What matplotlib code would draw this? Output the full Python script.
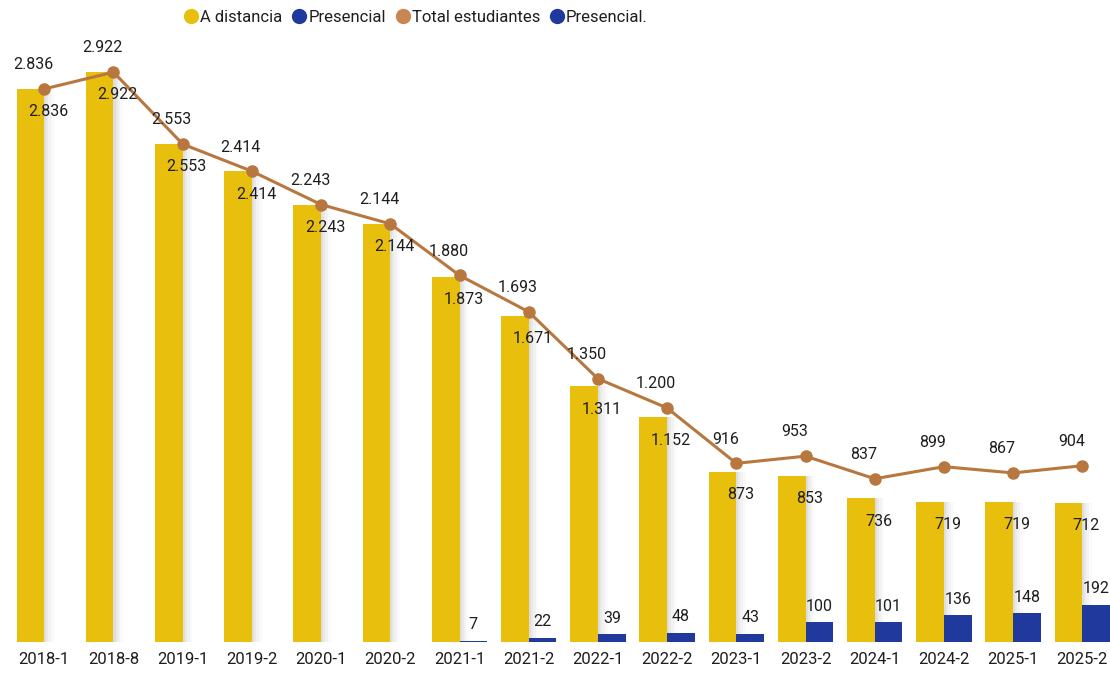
import numpy as np
import matplotlib.pyplot as plt
from matplotlib.lines import Line2D

# Semesters and enrolments per modality
periodos = ["2018-1", "2018-8", "2019-1", "2019-2", "2020-1", "2020-2", "2021-1", "2021-2",
            "2022-1", "2022-2", "2023-1", "2023-2", "2024-1", "2024-2", "2025-1", "2025-2"]
a_distancia = [2836, 2922, 2553, 2414, 2243, 2144, 1873, 1671,
               1311, 1152, 873, 853, 736, 719, 719, 712]
presencial = [0, 0, 0, 0, 0, 0, 7, 22, 39, 48, 43, 100, 101, 136, 148, 192]
total_estudiantes = [2836, 2922, 2553, 2414, 2243, 2144, 1880, 1693,
                     1350, 1200, 916, 953, 837, 899, 867, 904]

AMARILLO = "#E8BF0C"
AZUL = "#1F3A9C"
NARANJA = "#B8773F"
TEXTO = "#1E1E1E"

plt.rcParams["font.family"] = ["Roboto", "DejaVu Sans"]


def fmt(v):
    return f"{v:,}".replace(",", ".")


fig = plt.figure(figsize=(11.1, 6.73), dpi=100)
ax = fig.add_axes([0, 31 / 673, 1, 642 / 673])

x = np.arange(len(periodos))
w = 0.4

# soft shadow to the right of the yellow bars
for off, alpha in [(0.03, 0.10), (0.06, 0.08), (0.10, 0.06), (0.14, 0.04)]:
    ax.bar(x - w / 2 + off, a_distancia, width=w, color="#808080", alpha=alpha,
           linewidth=0, zorder=1)

ax.bar(x - w / 2, a_distancia, width=w, color=AMARILLO, linewidth=0, zorder=2)
ax.bar(x + w / 2, presencial, width=w, color=AZUL, linewidth=0, zorder=3)
ax.plot(x, total_estudiantes, color=NARANJA, lw=2.2, marker="o", ms=8,
        markerfacecolor=NARANJA, markeredgecolor=NARANJA, zorder=4)

for xi, a, p, t in zip(x, a_distancia, presencial, total_estudiantes):
    # total above the line point
    ax.annotate(fmt(t), (xi, t), xytext=(-8, 12), textcoords="offset points",
                ha="center", va="bottom", fontsize=11.5, color=TEXTO, zorder=5)
    # distance learners just under the bar top
    ax.annotate(fmt(a), (xi, a), xytext=(3, -11), textcoords="offset points",
                ha="center", va="top", fontsize=11.5, color=TEXTO, zorder=5)
    if p > 0:
        ax.annotate(fmt(p), (xi + w / 2, p), xytext=(0, 6), textcoords="offset points",
                    ha="center", va="bottom", fontsize=11.5, color=TEXTO, zorder=5)

ax.set_xlim(-0.64, 15.4)
ax.set_ylim(0, 3292)
ax.set_xticks(x)
ax.set_xticklabels(periodos, fontsize=12, color=TEXTO)
ax.tick_params(axis="x", length=0, pad=7)
ax.set_yticks([])
for s in ax.spines.values():
    s.set_visible(False)

handles = [
    Line2D([], [], marker="o", ls="", color=AMARILLO, ms=10),
    Line2D([], [], marker="o", ls="", color=AZUL, ms=10),
    Line2D([], [], marker="o", ls="", color="#C98552", ms=10),
    Line2D([], [], marker="o", ls="", color=AZUL, ms=10),
]
labels = ["A distancia", "Presencial", "Total estudiantes", "Presencial."]
fig.legend(handles, labels, loc="center", bbox_to_anchor=(417 / 1110, 1 - 17 / 673),
           ncol=4, frameon=False, fontsize=12, handlelength=0.6, handletextpad=0.25,
           columnspacing=0.7, labelcolor=TEXTO)

fig.savefig("out.png", dpi=100, facecolor="white")
